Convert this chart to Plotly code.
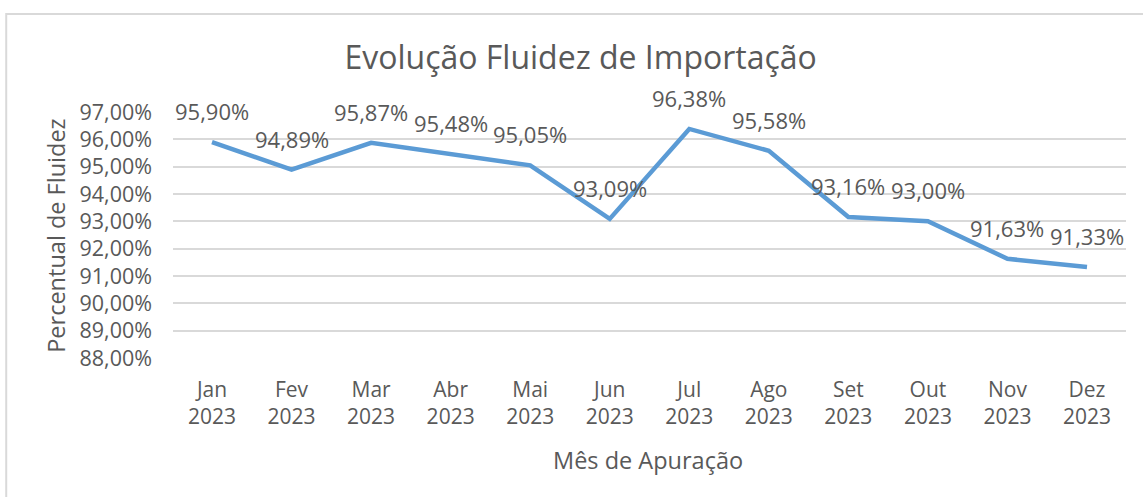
import plotly.graph_objects as go

months = ["Jan", "Fev", "Mar", "Abr", "Mai", "Jun", "Jul", "Ago", "Set", "Out", "Nov", "Dez"]
year = "2023"
categories = [f"{m}<br>{year}" for m in months]
fluidez = [0.9590, 0.9489, 0.9587, 0.9548, 0.9505, 0.9309, 0.9638, 0.9558, 0.9316, 0.9300, 0.9163, 0.9133]
y_min, y_max, y_step = 0.88, 0.97, 0.01

FONT = "Open Sans"
GREY = "#595959"

fig = go.Figure()
fig.add_trace(go.Scatter(
    x=categories, y=fluidez, mode="lines",
    line=dict(color="#5B9BD5", width=4.5),
    hoverinfo="skip", showlegend=False,
))

for c, v in zip(categories, fluidez):
    fig.add_annotation(
        x=c, y=v, xref="x", yref="y",
        text=f"{v*100:.2f}%".replace(".", ","),
        showarrow=False, yshift=31,
        font=dict(family=FONT, size=22, color=GREY),
    )

# axis titles
fig.add_annotation(text="Mês de Apuração", xref="paper", yref="paper",
                   x=0.498, y=-0.415, xanchor="center", yanchor="middle",
                   showarrow=False,
                   font=dict(family=FONT, size=23.5, color=GREY))
fig.add_annotation(text="Percentual de Fluidez", xref="paper", yref="paper",
                   x=-0.123, y=0.496, xanchor="center", yanchor="middle",
                   showarrow=False, textangle=-90,
                   font=dict(family=FONT, size=23.5, color=GREY))

fig.add_shape(type="rect", xref="paper", yref="paper",
              x0=-0.175, x1=1.05, y0=-0.7, y1=1.398,
              line=dict(color="#D9D9D9", width=2), layer="below")

fig.update_layout(
    width=1143, height=497,
    margin=dict(l=173, r=17, t=112, b=139),
    paper_bgcolor="white", plot_bgcolor="white",
    separators=",.",
    font=dict(family=FONT, size=21, color=GREY),
    title=dict(text="Evolução Fluidez de Importação", x=0.508, xanchor="center",
               y=1 - 58 / 497, yanchor="middle",
               font=dict(family=FONT, size=32, color=GREY)),
    xaxis=dict(
        type="category", showgrid=False, zeroline=False, showline=False,
        ticks="", ticklabelstandoff=17, automargin=False,
        tickfont=dict(family=FONT, size=21, color=GREY),
    ),
    yaxis=dict(
        range=[y_min, y_max], dtick=y_step, tick0=y_min, tickformat=".2%",
        showgrid=True, gridcolor="#D9D9D9", gridwidth=1.5,
        zeroline=False, showline=False, ticks="", ticklabelstandoff=20,
        automargin=False,
        tickfont=dict(family=FONT, size=21.5, color=GREY),
    ),
)

fig.write_html("out.html", config={"displayModeBar": False},
               post_script="document.body.style.margin='0';")
